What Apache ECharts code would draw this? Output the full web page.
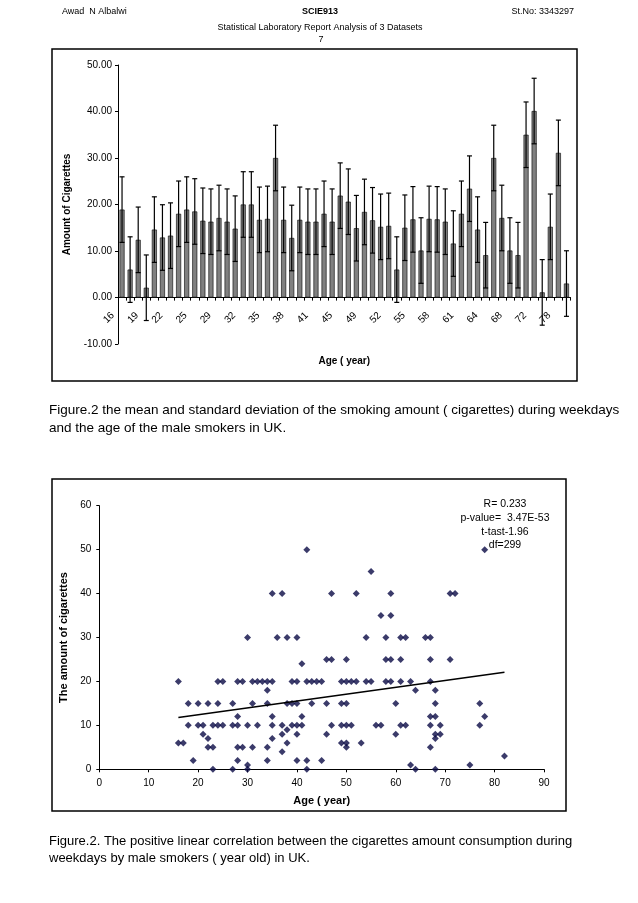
<!DOCTYPE html>
<html>
<head>
<meta charset="utf-8">
<script src="https://cdn.jsdelivr.net/npm/echarts@6/dist/echarts.min.js"></script>
<style>
html,body{margin:0;padding:0;background:#fff;}
#c{width:638px;height:903px;}
</style>
</head>
<body>
<div id="c"></div>
<script>
// ---- Figure 1: mean smoking amount by age (with SD error bars) ----
const ages = [16,17,18,19,20,21,22,23,24,25,27,28,29,30,31,32,33,34,35,36,37,38,39,40,41,42,43,45,46,47,49,50,51,52,53,54,55,56,57,58,59,60,61,62,63,64,66,67,68,69,71,72,75,77,78,82];
const means = [18.9,6.0,12.4,2.1,14.6,12.9,13.3,18.0,18.9,18.5,16.5,16.3,17.1,16.3,14.8,20.0,20.0,16.7,16.9,30.0,16.7,12.8,16.7,16.3,16.3,18.0,16.3,21.9,20.6,14.9,18.4,16.6,15.2,15.4,6.0,15.0,16.8,10.1,16.9,16.8,16.3,11.6,18.0,23.4,14.6,9.1,30.0,17.1,10.1,9.1,35.0,40.1,1.1,15.2,31.1,3.0];
const sd = 7.05;
const barYTicks = [-10, 0, 10, 20, 30, 40, 50];

// ---- Figure 2: scatter of age vs cigarettes ----
const scatterPoints = [
 [16,20],[16,6],[17,6],[18,15],[18,10],[19,2],[20,15],[20,10],[21,10],[21,8],
 [22,15],[22,7],[22,5],[23,5],[23,0],[23,10],[24,20],[25,20],[24,15],[24,10],
 [25,10],[27,15],[27,10],[28,10],[27,0],[28,20],[29,20],[28,12],[28,5],[29,5],
 [28,2],[30,30],[30,10],[30,1],[30,0],[31,20],[32,20],[33,20],[34,20],[35,20],
 [31,15],[31,5],[32,10],[34,18],[34,15],[34,5],[34,2],[35,40],[35,12],[35,10],
 [35,7],[37,40],[36,30],[38,30],[40,30],[37,10],[37,8],[37,4],[38,9],[38,15],
 [38,6],[39,20],[40,20],[39,15],[40,15],[39,10],[40,10],[41,10],[40,8],[40,2],
 [41,24],[41,12],[42,20],[43,20],[42,50],[42,2],[42,0],[43,15],[44,20],[45,2],
 [45,20],[78,50],[55,45],[47,40],[52,40],[59,40],[71,40],[72,40],[57,35],[59,35],
 [54,30],[58,30],[61,30],[62,30],[66,30],[67,30],[46,25],[47,25],[50,25],[58,25],
 [59,25],[61,25],[67,25],[71,25],[49,20],[50,20],[51,20],[52,20],[54,20],[55,20],
 [58,20],[59,20],[61,20],[63,20],[67,20],[64,18],[68,18],[46,15],[49,15],[50,15],
 [60,15],[68,15],[77,15],[67,12],[68,12],[78,12],[47,10],[49,10],[50,10],[51,10],
 [56,10],[57,10],[61,10],[62,10],[67,10],[69,10],[77,10],[46,8],[60,8],[68,8],
 [69,8],[68,7],[49,6],[50,6],[53,6],[50,5],[67,5],[82,3],[63,1],[75,1],
 [64,0],[68,0]
];
const trendLine = [[16, 11.8], [82, 22.1]];
const statsText = ['R= 0.233', 'p-value=  3.47E-53', 't-tast-1.96', 'df=299'];

const FONT = "'Liberation Sans', Arial, sans-serif";
const chart = echarts.init(document.getElementById('c'), null, {renderer: 'canvas'});

const headerTexts = [
  {type:'text', left:62, top:7, style:{text:'Awad  N Albalwi', font:'9px ' + FONT, fill:'#000'}},
  {type:'text', x:320, y:7, style:{text:'SCIE913', font:'bold 9px ' + FONT, fill:'#000', textAlign:'center'}},
  {type:'text', x:574, y:7, style:{text:'St.No: 3343297', font:'9px ' + FONT, fill:'#000', textAlign:'right'}},
  {type:'text', x:320, y:23, style:{text:'Statistical Laboratory Report Analysis of 3 Datasets', font:'9px ' + FONT, fill:'#000', textAlign:'center'}},
  {type:'text', x:321, y:35, style:{text:'7', font:'9px ' + FONT, fill:'#000', textAlign:'center'}}
];

const frames = [
  {type:'rect', shape:{x:52, y:49, width:525, height:332}, style:{fill:'none', stroke:'#000', lineWidth:1.5}, z:-1},
  {type:'rect', shape:{x:52, y:479, width:514, height:332}, style:{fill:'none', stroke:'#000', lineWidth:1.5}, z:-1}
];

const captions = [
  {type:'text', x:49, y:403, style:{text:'Figure.2 the mean and standard deviation of the smoking amount ( cigarettes) during weekdays', font:'13.5px ' + FONT, fill:'#000'}},
  {type:'text', x:49, y:421, style:{text:'and the age of the male smokers in UK.', font:'13.5px ' + FONT, fill:'#000'}},
  {type:'text', x:49, y:835, style:{text:'Figure.2. The positive linear correlation between the cigarettes amount consumption during', font:'13px ' + FONT, fill:'#000'}},
  {type:'text', x:49, y:852, style:{text:'weekdays by male smokers ( year old) in UK.', font:'13px ' + FONT, fill:'#000'}}
];

const statsGraphic = statsText.map((t, i) => ({
  type:'text', x:505, y:499 + i*13.7,
  style:{text:t, font:'10.5px ' + FONT, fill:'#000', textAlign:'center'}
}));

const option = {
  animation: false,
  backgroundColor: '#fff',
  textStyle: {fontFamily: FONT},
  graphic: [...headerTexts, ...frames, ...captions, ...statsGraphic],
  grid: [
    {left:118, right:67.5, top:65, bottom:559, containLabel:false},
    {left:99.3, right:94, top:505.7, bottom:133.7, containLabel:false}
  ],
  xAxis: [
    {
      gridIndex:0, type:'category', data: ages.map(String),
      boundaryGap:true, offset:-46.4,
      axisLine:{onZero:false, lineStyle:{color:'#000', width:1}},
      axisTick:{show:true, interval:0, length:3, lineStyle:{color:'#000'}},
      axisLabel:{interval:2, rotate:45, fontSize:10, color:'#000', margin:7, padding:[0,13,0,0], fontFamily:FONT},
      name:'Age ( year)', nameLocation:'middle', nameGap:59,
      nameTextStyle:{fontWeight:'bold', fontSize:10, color:'#000', fontFamily:FONT},
      splitLine:{show:false}
    },
    {
      gridIndex:1, type:'value', min:0, max:90, interval:10,
      axisLine:{onZero:false, lineStyle:{color:'#000', width:1}},
      axisTick:{show:true, length:3, lineStyle:{color:'#000'}},
      axisLabel:{fontSize:10, color:'#000', margin:9, fontFamily:FONT},
      name:'Age ( year)', nameLocation:'middle', nameGap:26,
      nameTextStyle:{fontWeight:'bold', fontSize:11, color:'#000', fontFamily:FONT},
      splitLine:{show:false}
    }
  ],
  yAxis: [
    {
      gridIndex:0, type:'value', min:barYTicks[0], max:barYTicks[barYTicks.length-1], interval:10,
      axisLine:{show:true, lineStyle:{color:'#000', width:1}},
      axisTick:{show:true, length:3, lineStyle:{color:'#000'}},
      axisLabel:{fontSize:10, color:'#000', margin:6, formatter:v => v.toFixed(2), fontFamily:FONT},
      name:'Amount of Cigarettes', nameLocation:'middle', nameGap:44,
      nameTextStyle:{fontWeight:'bold', fontSize:10, color:'#000', fontFamily:FONT},
      splitLine:{show:false}
    },
    {
      gridIndex:1, type:'value', min:0, max:60, interval:10,
      axisLine:{show:true, lineStyle:{color:'#000', width:1}},
      axisTick:{show:true, length:3, lineStyle:{color:'#000'}},
      axisLabel:{fontSize:10, color:'#000', margin:8, fontFamily:FONT},
      name:'The amount of cigarettes', nameLocation:'middle', nameGap:30,
      nameTextStyle:{fontWeight:'bold', fontSize:11, color:'#000', fontFamily:FONT},
      splitLine:{show:false}
    }
  ],
  series: [
    {
      type:'bar', xAxisIndex:0, yAxisIndex:0, data: means, barWidth:5,
      itemStyle:{color:'#808080', borderColor:'#000', borderWidth:0.6}
    },
    {
      type:'custom', xAxisIndex:0, yAxisIndex:0, z:5,
      data: means.map((m, i) => [i, m, sd]),
      encode:{x:0, y:1},
      renderItem: function(params, api) {
        const i = api.value(0), m = api.value(1), s = api.value(2);
        const top = api.coord([i, m + s]);
        const bot = api.coord([i, m - s]);
        const hw = 2.5;
        const st = {stroke:'#000', lineWidth:1.2};
        return {type:'group', children:[
          {type:'line', shape:{x1:top[0], y1:top[1], x2:bot[0], y2:bot[1]}, style:st},
          {type:'line', shape:{x1:top[0]-hw, y1:top[1], x2:top[0]+hw, y2:top[1]}, style:st},
          {type:'line', shape:{x1:bot[0]-hw, y1:bot[1], x2:bot[0]+hw, y2:bot[1]}, style:st}
        ]};
      }
    },
    {
      type:'scatter', xAxisIndex:1, yAxisIndex:1, data: scatterPoints,
      symbol:'diamond', symbolSize:[7,7],
      itemStyle:{color:'#0a0a45'}
    },
    {
      type:'line', xAxisIndex:1, yAxisIndex:1, data: trendLine,
      showSymbol:false, symbol:'none',
      lineStyle:{color:'#000', width:1.5}
    }
  ]
};
chart.setOption(option);
</script>
</body>
</html>
